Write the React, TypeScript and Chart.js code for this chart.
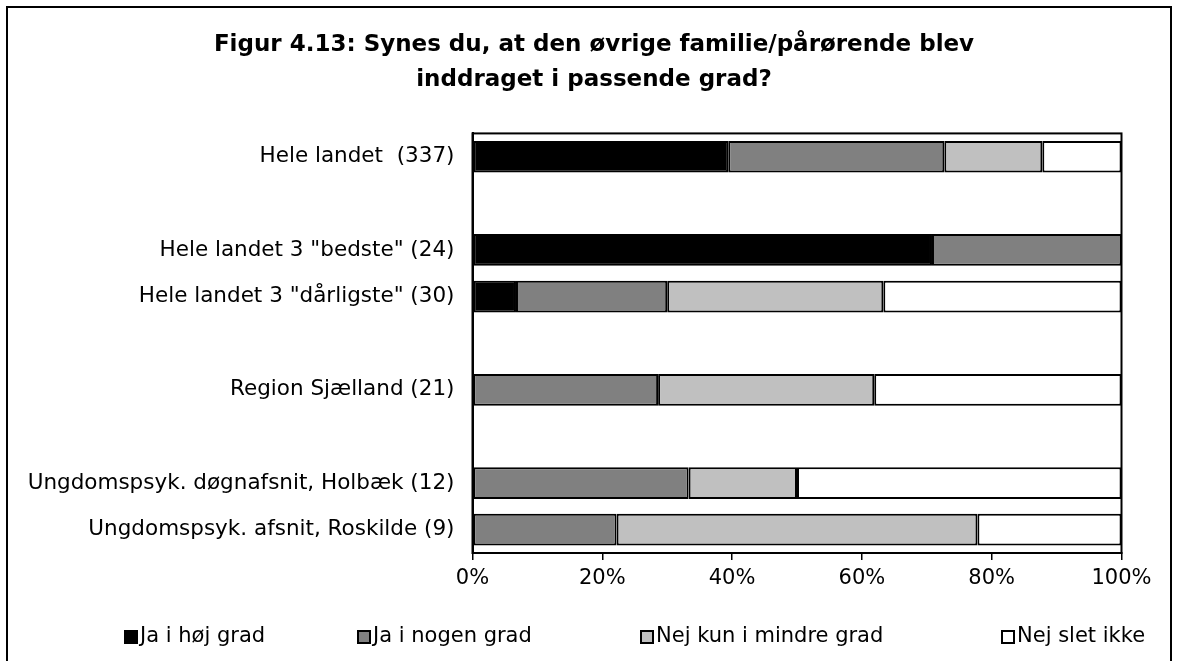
import React, { useEffect, useRef } from "react";
import { Chart, registerables } from "chart.js";

Chart.register(...registerables);

const titleLines = [
  "Figur 4.13: Synes du, at den øvrige familie/pårørende blev",
  "inddraget i passende grad?",
];

const categories = [
  "Hele landet  (337)",
  "",
  'Hele landet 3 "bedste" (24)',
  'Hele landet 3 "dårligste" (30)',
  "",
  "Region Sjælland (21)",
  "",
  "Ungdomspsyk. døgnafsnit, Holbæk (12)",
  "Ungdomspsyk. afsnit, Roskilde (9)",
];

const seriesNames = ["Ja i høj grad", "Ja i nogen grad", "Nej kun i mindre grad", "Nej slet ikke"];

const jaHoejGrad = [39.4, null, 70.8, 6.7, null, 0, null, 0, 0];
const jaNogenGrad = [33.3, null, 29.2, 23.3, null, 28.6, null, 33.3, 22.2];
const nejMindreGrad = [15.1, null, 0, 33.3, null, 33.3, null, 16.7, 55.6];
const nejSletIkke = [12.2, null, 0, 36.7, null, 38.1, null, 50.0, 22.2];

const xTicks = [0, 20, 40, 60, 80, 100];

const seriesColors = ["#000000", "#808080", "#C0C0C0", "#FFFFFF"];

const FONT = "'DejaVu Sans', Verdana, sans-serif";

const legendX = [117, 350, 633, 994];

const boxPlugin = {
  id: "plotBox",
  afterDatasetsDraw(chart: any) {
    const { ctx, chartArea } = chart;
    ctx.save();
    ctx.strokeStyle = "#000";
    ctx.lineWidth = 2;
    ctx.strokeRect(chartArea.left, chartArea.top, chartArea.right - chartArea.left, chartArea.bottom - chartArea.top);
    ctx.restore();
  },
};

const legendPlugin = {
  id: "customLegend",
  afterDraw(chart: any) {
    const { ctx } = chart;
    const y = 629;
    ctx.save();
    ctx.font = `21px ${FONT}`;
    ctx.textBaseline = "middle";
    ctx.textAlign = "left";
    chart.data.datasets.forEach((ds: any, i: number) => {
      const x = legendX[i];
      ctx.fillStyle = ds.backgroundColor;
      ctx.fillRect(x, y - 6, 12, 12);
      ctx.strokeStyle = "#000";
      ctx.lineWidth = 2;
      ctx.strokeRect(x, y - 6, 12, 12);
      ctx.fillStyle = "#000";
      ctx.fillText(ds.label, x + 15, y);
    });
    ctx.restore();
  },
};

export default function App() {
  const ref = useRef<HTMLCanvasElement | null>(null);

  useEffect(() => {
    if (!ref.current) return;
    const values = [jaHoejGrad, jaNogenGrad, nejMindreGrad, nejSletIkke];
    const chart = new Chart(ref.current, {
      type: "bar",
      data: {
        labels: categories,
        datasets: values.map((d, i) => ({
          label: seriesNames[i],
          data: d,
          backgroundColor: seriesColors[i],
          borderColor: "#000000",
          borderWidth: 2,
          borderSkipped: false,
          categoryPercentage: 1,
          barPercentage: 0.68,
        })),
      },
      options: {
        indexAxis: "y",
        responsive: false,
        animation: false,
        maintainAspectRatio: false,
        layout: { padding: { left: 0, right: 0, top: 0, bottom: 68 } },
        plugins: {
          legend: { display: false },
          tooltip: { enabled: false },
          title: {
            display: true,
            text: titleLines,
            color: "#000",
            font: { family: FONT, size: 23, weight: "bold", lineHeight: 1.52 },
            padding: { top: 19.5, bottom: 36 },
          },
        },
        scales: {
          x: {
            stacked: true,
            min: 0,
            max: 100,
            afterBuildTicks(scale: any) {
              scale.ticks = xTicks.map((v) => ({ value: v }));
            },
            afterFit(scale: any) {
              scale.height = 40;
            },
            ticks: {
              callback: (v: any) => v + "%",
              color: "#000",
              font: { family: FONT, size: 21 },
              padding: 6,
              maxRotation: 0,
            },
            grid: {
              drawOnChartArea: false,
              drawTicks: true,
              tickLength: 7,
              color: "#000",
              lineWidth: 1.5,
            },
            border: { display: true, color: "#000", width: 2 },
          },
          y: {
            stacked: true,
            afterFit(scale: any) {
              scale.width = 464.5;
            },
            ticks: {
              color: "#000",
              font: { family: FONT, size: 21.5 },
              padding: 10,
              autoSkip: false,
            },
            grid: { display: false },
            border: { display: true, color: "#000", width: 2 },
          },
          yRightSpacer: {
            type: "category",
            position: "right",
            display: true,
            afterFit(scale: any) {
              scale.width = 58.5;
            },
            ticks: { display: false },
            grid: { display: false, drawTicks: false },
            border: { display: false },
          },
        },
      },
      plugins: [boxPlugin, legendPlugin],
    } as any);
    return () => chart.destroy();
  }, []);

  return (
    <div
      style={{
        position: "fixed",
        left: 6,
        top: 6,
        width: 1166,
        height: 720,
        border: "2px solid #000",
        boxSizing: "border-box",
        background: "#fff",
        overflow: "hidden",
      }}
    >
      <canvas ref={ref} width={1172} height={653} style={{ display: "block", width: 1172, height: 653 }} />
    </div>
  );
}
